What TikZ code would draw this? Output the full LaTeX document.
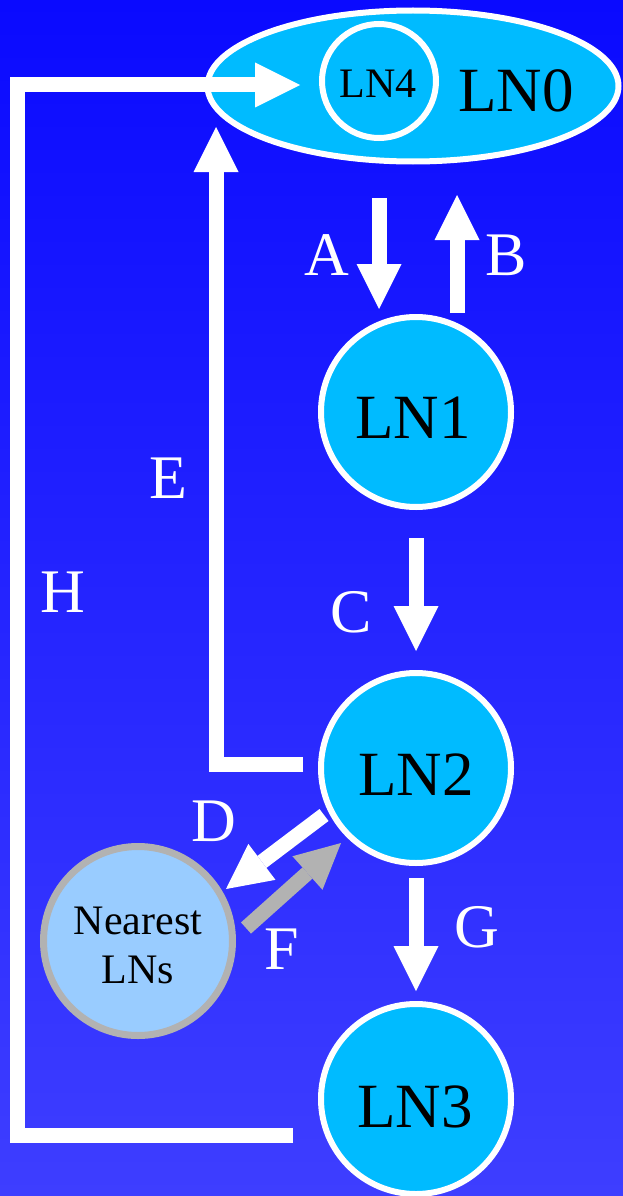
\documentclass[tikz,border=0pt]{standalone}
\usepackage{fontspec}
\setmainfont{Liberation Serif}
\usetikzlibrary{arrows.meta,shapes.geometric}
\definecolor{bgtop}{RGB}{10,10,255}
\definecolor{bgbot}{RGB}{62,62,255}
\definecolor{lncyan}{RGB}{0,187,255}
\definecolor{nearfill}{RGB}{153,204,255}
\definecolor{neargray}{RGB}{178,178,178}
\begin{document}
\begin{tikzpicture}[x=1pt,y=-1pt,
  lnnode/.style={circle,draw=white,line width=6pt,fill=lncyan,minimum size=190pt,inner sep=0pt},
  bigtxt/.style={anchor=base,font=\fontsize{63}{63}\selectfont,text=black,inner sep=0pt},
  smalltxt/.style={anchor=base,font=\fontsize{42}{42}\selectfont,text=black,inner sep=0pt},
  lbl/.style={anchor=base,font=\fontsize{62}{62}\selectfont,text=white,inner sep=0pt},
  fat/.style={line width=15pt,draw=white,line join=miter,-{Triangle[width=45pt,length=45pt,line width=0pt]}},
  fatgray/.style={fat,draw=neargray},
]
\shade[top color=bgtop,bottom color=bgbot] (0,0) rectangle (623,1196);
\useasboundingbox (0,0) rectangle (623,1196);

% nodes
\node[ellipse,draw=white,line width=6pt,fill=lncyan,minimum width=411pt,minimum height=151pt,inner sep=0pt] (LN0) at (413,86) {};
\node[circle,draw=white,line width=6pt,fill=lncyan,minimum size=114pt,inner sep=0pt] (LN4) at (379,81) {};
\node[smalltxt] (tLN4) at (378,98) {LN4};
\node[bigtxt] (tLN0) at (516,112) {LN0};

\node[lnnode] (LN1) at (416,412) {};
\node[bigtxt] (tLN1) at (413,438) {LN1};
\node[lnnode] (LN2) at (416,768) {};
\node[bigtxt] (tLN2) at (416,795) {LN2};
\node[lnnode] (LN3) at (416,1099) {};
\node[bigtxt] (tLN3) at (415,1127) {LN3};

\node[circle,draw=neargray,line width=7pt,fill=nearfill,minimum size=189pt,inner sep=0pt] (NL) at (138,941) {};
\node[smalltxt] (tNL1) at (138,934) {Nearest};
\node[smalltxt] (tNL2) at (138,983) {LNs};

% arrow end points
\coordinate (As) at (379,198); \coordinate (At) at (379,309);
\coordinate (Bs) at (457,313); \coordinate (Bt) at (457,195);
\coordinate (Cs) at (416,538); \coordinate (Ct) at (416,651);
\coordinate (Gs) at (416,878); \coordinate (Gt) at (416,991);
\coordinate (Es) at (303,764); \coordinate (Ec) at (216,764); \coordinate (Et) at (216,127);
\coordinate (Hs) at (293,1135); \coordinate (Hc1) at (17,1135); \coordinate (Hc2) at (17,85); \coordinate (Ht) at (300,85);
\coordinate (Ds) at (324,815); \coordinate (Dt) at (226,889);
\coordinate (Fs) at (246,928); \coordinate (Ft) at (341,843);

% connectors
\draw[fat] (As) -- (At);
\draw[fat] (Bs) -- (Bt);
\draw[fat] (Cs) -- (Ct);
\draw[fat] (Gs) -- (Gt);
\draw[fat] (Es) -- (Ec) -- (Et);
\draw[fat] (Hs) -- (Hc1) -- (Hc2) -- (Ht);
\draw[fat] (Ds) -- (Dt);
\draw[fatgray] (Fs) -- (Ft);

% labels
\node[lbl] (lA) at (327,275) {A};
\node[lbl] (lB) at (506,275) {B};
\node[lbl] (lC) at (351,632) {C};
\node[lbl] (lD) at (214,841) {D};
\node[lbl] (lE) at (168,498) {E};
\node[lbl] (lF) at (282,969) {F};
\node[lbl] (lG) at (477,947) {G};
\node[lbl] (lH) at (63,612) {H};
\end{tikzpicture}
\end{document}
